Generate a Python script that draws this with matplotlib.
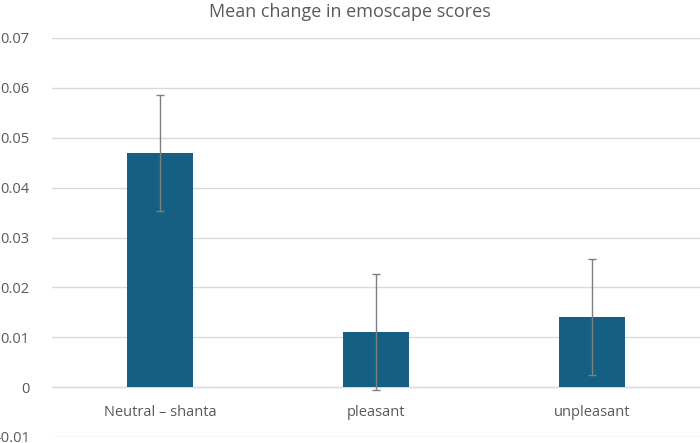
import matplotlib

matplotlib.use("Agg")
import matplotlib.pyplot as plt
from matplotlib.ticker import FuncFormatter

categories = ["Neutral \u2013 shanta", "pleasant", "unpleasant"]
means = [0.047, 0.011, 0.014]
errors = [0.0116, 0.0116, 0.0116]
yticks = [-0.01, 0, 0.01, 0.02, 0.03, 0.04, 0.05, 0.06, 0.07]

plt.rcParams["font.family"] = ["Open Sans", "DejaVu Sans"]
text_gray = "#595959"

fig = plt.figure(figsize=(7, 4.43), dpi=100)
ax = fig.add_axes([52 / 700, 6 / 443, 648 / 700, 399 / 443])

x = list(range(len(categories)))
ax.bar(x, means, width=0.306, color="#156082", zorder=3)
ax.errorbar(x, means, yerr=errors, fmt="none", ecolor="#7f7f7f",
            elinewidth=1, capsize=3, capthick=1, zorder=4)

ax.set_xlim(-0.5, 2.5)
ax.set_ylim(-0.01, 0.07)
ax.set_yticks(yticks)
ax.yaxis.set_major_formatter(FuncFormatter(lambda v, p: "0" if abs(v) < 1e-9 else f"{v:.2f}"))
ax.grid(axis="y", color="#d9d9d9", linewidth=1, zorder=0)

for side in ["top", "right", "left"]:
    ax.spines[side].set_visible(False)
ax.spines["bottom"].set_position(("data", 0))
ax.spines["bottom"].set_color("#d9d9d9")
ax.spines["bottom"].set_zorder(2)

ax.set_xticks(x, labels=categories)
ax.tick_params(axis="x", length=0, pad=13, labelsize=10.5, labelcolor=text_gray)
ax.tick_params(axis="y", length=0, pad=16, labelsize=10.5, labelcolor=text_gray)
for lbl in ax.get_yticklabels():
    lbl.set_horizontalalignment("right")

fig.text(0.5, 1 - 12 / 443, "Mean change in emoscape scores", ha="center", va="center",
         fontsize=13, color=text_gray)

fig.savefig("out.png", dpi=100)
